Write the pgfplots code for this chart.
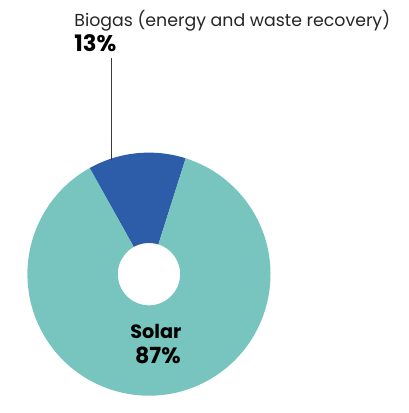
\documentclass[border=0pt]{standalone}
\usepackage{fontspec}
\setmainfont{Poppins}
\usepackage{pgfplots}
\usepackage{pgfplotstable}
\pgfplotsset{compat=1.18}

\definecolor{solarteal}{HTML}{77C5BE}
\definecolor{biogasblue}{HTML}{2D5DA8}
\definecolor{leader}{HTML}{3A3A3A}

% shares in percent
\pgfplotstableread{
source value
Biogas 13
Solar 87
}\sharetable

\begin{document}
\begin{tikzpicture}
\pgfplotstablegetelem{0}{value}\of\sharetable \let\vbio=\pgfplotsretval
\pgfplotstablegetelem{1}{value}\of\sharetable \let\vsol=\pgfplotsretval
\pgfmathsetmacro{\aS}{72.4}
\pgfmathsetmacro{\aM}{\aS+3.6*\vbio}
\pgfmathsetmacro{\aE}{\aM+3.6*\vsol}
\def\Ro{122.8bp}
\def\Ri{31.5bp}
\begin{axis}[
    hide axis,
    scale only axis,
    x=1bp, y=1bp,
    xmin=0, xmax=413,
    ymin=0, ymax=403,
    clip=false,
]
\path (axis cs:0,0) rectangle (axis cs:413,403);
% biogas wedge
\fill[biogasblue] ([shift={(\aS:\Ro)}]axis cs:150.5,126)
    arc[start angle=\aS, end angle=\aM, radius=\Ro]
    -- ([shift={(\aM:\Ri)}]axis cs:150.5,126)
    arc[start angle=\aM, end angle=\aS, radius=\Ri] -- cycle;
% solar wedge
\fill[solarteal] ([shift={(\aM:\Ro)}]axis cs:150.5,126)
    arc[start angle=\aM, end angle=\aE, radius=\Ro]
    -- ([shift={(\aE:\Ri)}]axis cs:150.5,126)
    arc[start angle=\aE, end angle=\aM, radius=\Ri] -- cycle;
% leader line
\draw[leader, line width=1pt] (axis cs:113,344) -- (axis cs:113,241);
% labels
\node[anchor=base west, inner sep=0pt, font=\fontsize{17.6}{20}\selectfont, text=black!85]
    at (axis cs:75,376) {Biogas (energy and waste recovery)};
\node[anchor=base west, inner sep=0pt, font=\fontsize{23}{26}\selectfont\bfseries]
    at (axis cs:75,351) {13\%};
\node[anchor=base, inner sep=0pt, font=\fontsize{19.5}{22}\selectfont\bfseries]
    at (axis cs:157.5,61) {Solar};
\node[anchor=base, inner sep=0pt, font=\fontsize{22.5}{26}\selectfont\bfseries]
    at (axis cs:159.5,36) {87\%};
\end{axis}
\end{tikzpicture}
\end{document}
